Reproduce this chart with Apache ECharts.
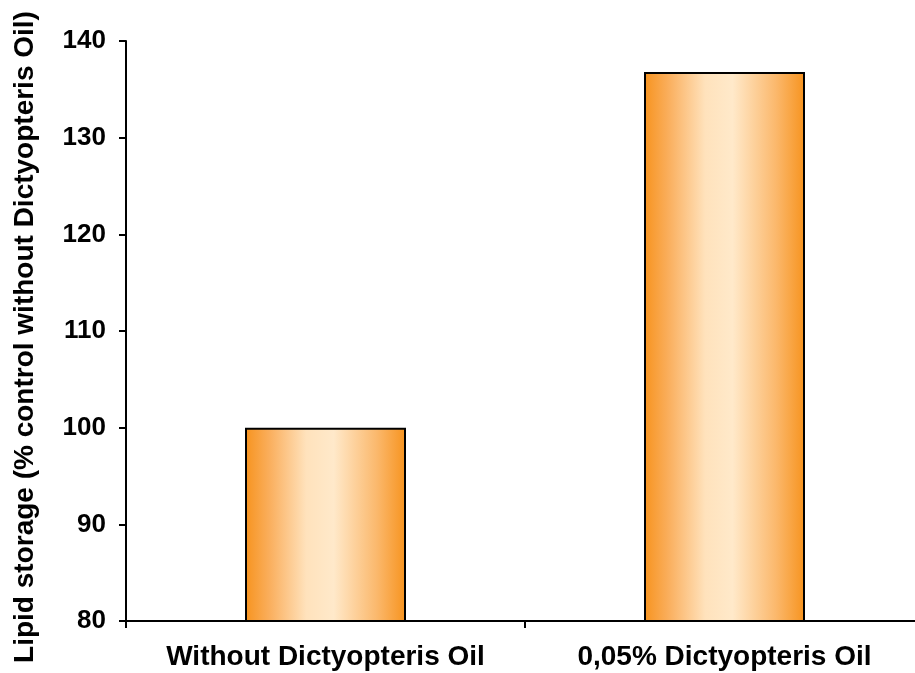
<!DOCTYPE html>
<html>
<head>
<meta charset="utf-8">
<script src="https://cdn.jsdelivr.net/npm/echarts@6/dist/echarts.min.js"></script>
<style>html,body{margin:0;padding:0;background:#fff;overflow:hidden}#c{width:924px;height:673px}</style>
</head>
<body>
<div id="c"></div>
<script>
const categories = ["Without Dictyopteris Oil", "0,05% Dictyopteris Oil"];
const values = [100, 136.8];
const yTicks = { min: 80, max: 140, interval: 10 };

const chart = echarts.init(document.getElementById('c'), null, { renderer: 'canvas' });
const grad = new echarts.graphic.LinearGradient(0, 0, 1, 0, [
  { offset: 0, color: '#F7931E' },
  { offset: 0.15, color: '#FAAE5C' },
  { offset: 0.38, color: '#FFE2BC' },
  { offset: 0.55, color: '#FFE9CA' },
  { offset: 0.82, color: '#FBB86C' },
  { offset: 1, color: '#F7931E' }
]);
chart.setOption({
  animation: false,
  grid: { left: 126, right: 0, top: 41, bottom: 52, containLabel: false },
  xAxis: {
    type: 'category',
    data: categories,
    axisLine: { lineStyle: { color: '#000', width: 2 } },
    axisTick: { show: true, length: 7, lineStyle: { color: '#000', width: 2 }, alignWithLabel: false },
    axisLabel: { color: '#000', fontFamily: 'Liberation Sans', fontWeight: 'bold', fontSize: 28, margin: 22, interval: 0 }
  },
  yAxis: {
    type: 'value',
    min: yTicks.min, max: yTicks.max, interval: yTicks.interval,
    name: 'Lipid storage (% control without Dictyopteris Oil)',
    nameLocation: 'middle',
    nameGap: 87,
    nameTextStyle: { color: '#000', fontFamily: 'Liberation Sans', fontWeight: 'bold', fontSize: 28, padding: [0, 12, 0, 0] },
    axisLine: { show: true, lineStyle: { color: '#000', width: 2 } },
    axisTick: { show: true, length: 7, lineStyle: { color: '#000', width: 2 } },
    axisLabel: { color: '#000', fontFamily: 'Liberation Sans', fontWeight: 'bold', fontSize: 26, margin: 20 },
    splitLine: { show: false }
  },
  series: [{
    type: 'bar',
    data: values,
    barWidth: 161,
    itemStyle: { color: grad, borderColor: '#000', borderWidth: 2 }
  }]
});
</script>
</body>
</html>
